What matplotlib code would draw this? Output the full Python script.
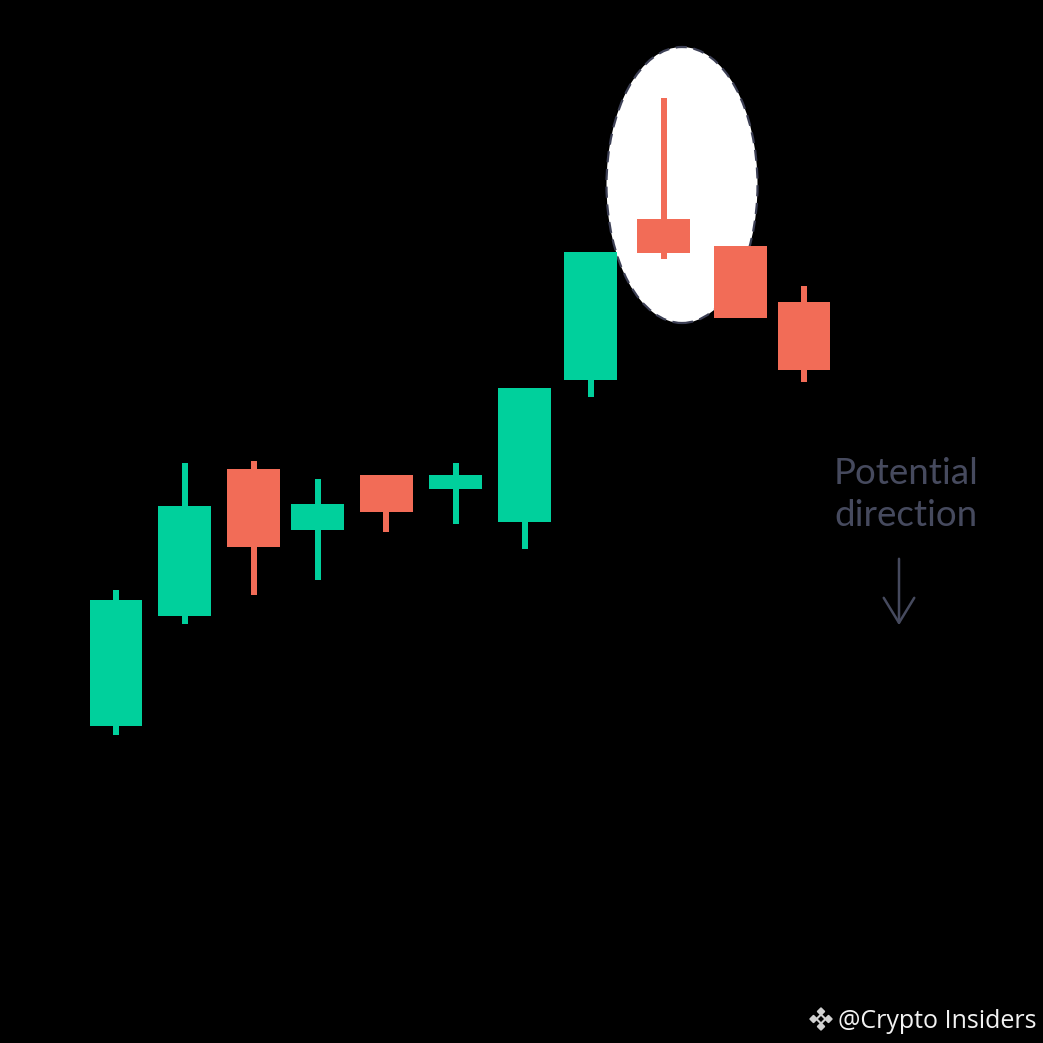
import matplotlib
matplotlib.use("Agg")
import matplotlib.pyplot as plt
from matplotlib.patches import Ellipse, RegularPolygon, FancyArrowPatch

# candle data (arbitrary price scale)
opens  = [31.7, 42.7, 57.4, 51.3, 56.8, 55.4, 52.1, 66.3, 82.4, 79.7, 74.1]
highs  = [45.3, 58.0, 58.2, 56.4, 56.8, 58.0, 65.5, 79.1, 94.5, 79.7, 75.7]
lows   = [30.8, 41.9, 44.8, 46.3, 51.1, 51.9, 49.4, 64.6, 78.4, 72.5, 66.1]
closes = [44.3, 53.7, 49.6, 53.9, 53.1, 56.8, 65.5, 79.1, 79.0, 72.5, 67.3]
x_pos  = [0, 1, 2, 2.93, 3.93, 4.94, 5.94, 6.9, 7.96, 9.08, 10.0]

UP = '#00d09c'
DOWN = '#f26c57'
TEXT = '#464a5e'

fig = plt.figure(figsize=(10.43, 10.43), dpi=100, facecolor='black')
ax = fig.add_axes([0, 0, 1, 1])
ax.set_facecolor('black')
ax.set_xlim(-1.686, 13.474)
ax.set_ylim(0, 104.3)
ax.axis('off')

# highlight around the long upper shadow
ell = Ellipse((8.227, 85.8), 2.195, 27.6, facecolor='white', edgecolor='#3d4055',
              linewidth=1.6, linestyle=(0, (5, 3)), zorder=1)
ax.add_patch(ell)

for x, o, h, l, c in zip(x_pos, opens, highs, lows, closes):
    col = UP if c >= o else DOWN
    ax.bar(x, h - l, bottom=l, width=0.088, color=col, zorder=2)
    ax.bar(x, abs(c - o), bottom=min(o, c), width=0.77, color=col, zorder=3)

# baseline of the last line sits at y = 526 px
ax.text(834 / 1043, 1 - 526 / 1043, 'Potential\ndirection', transform=ax.transAxes,
        fontsize=26.5, family=['Lato', 'DejaVu Sans'], color=TEXT, va='baseline',
        ha='left', linespacing=1.33)

arr = FancyArrowPatch((899 / 1043, 1 - 556 / 1043), (899 / 1043, 1 - 628 / 1043),
                      transform=ax.transAxes, arrowstyle='->,head_length=0.9,head_width=0.55',
                      mutation_scale=20, color=TEXT, linewidth=1.8)
ax.add_patch(arr)

# watermark
ax.text(838 / 1043, 1 - 1028 / 1043, '@Crypto Insiders', transform=ax.transAxes,
        fontsize=18, family=['Open Sans', 'DejaVu Sans'], color='#f2f2f2',
        va='baseline', ha='left')
lx, ly = 821 / 1043, 1 - 1019 / 1043
d = 7.5 / 1043
logo = '#d0d0d0'
for dx, dy in [(-d, 0), (d, 0), (0, d), (0, -d)]:
    ax.add_patch(RegularPolygon((lx + dx, ly + dy), 4, radius=3.6 / 1043, orientation=0,
                                transform=ax.transAxes, color=logo))
ax.add_patch(RegularPolygon((lx, ly), 4, radius=4.5 / 1043, orientation=0,
                            transform=ax.transAxes, facecolor='none', edgecolor=logo,
                            linewidth=1.5))

fig.savefig('out.png', dpi=100, facecolor='black')
